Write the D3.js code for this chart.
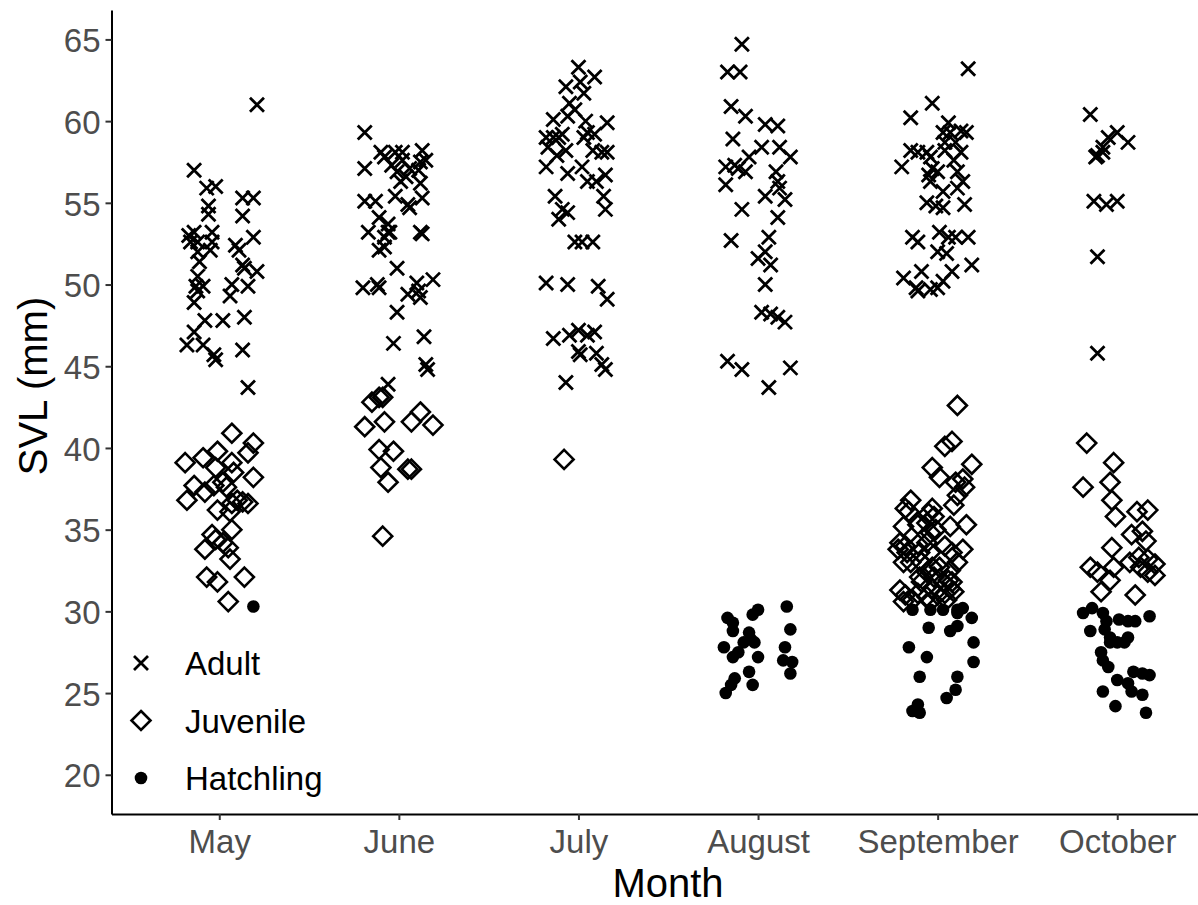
<!DOCTYPE html>
<html><head><meta charset="utf-8">
<script src="https://cdn.jsdelivr.net/npm/d3@7"></script>
<style>body{margin:0;background:#fff}svg{display:block}text{font-family:"Liberation Sans",Arial,sans-serif}</style>
</head><body><svg id="c" width="1198" height="905"></svg>
<script>
const months = ["May","June","July","August","September","October"];
const yTicks = [20,25,30,35,40,45,50,55,60,65];
const stages = ["Adult","Juvenile","Hatchling"];
// [jitter (category units), SVL mm]
const adultMay = [[0.21,61.0],[-0.14,57.0],[-0.07,55.9],[-0.02,56.0],[0.13,55.3],[0.19,55.3],[-0.06,54.8],[-0.06,54.3],[0.13,54.2],[0.19,52.9],[-0.17,53.0],[-0.14,53.2],[-0.04,53.2],[-0.12,52.6],[-0.04,52.6],[-0.16,52.6],[0.09,52.4],[0.11,52.1],[-0.12,52.0],[-0.05,52.1],[-0.11,51.4],[0.13,51.2],[0.14,51.0],[0.21,50.8],[-0.12,50.5],[0.07,50.0],[0.16,49.9],[-0.13,49.9],[-0.09,49.9],[-0.12,49.6],[0.06,49.3],[-0.14,48.9],[-0.08,47.8],[0.02,47.8],[0.14,48.0],[-0.18,46.3],[-0.09,46.3],[-0.03,45.7],[-0.02,45.4],[0.13,46.0],[0.16,43.7],[-0.14,47.1]];
const juvMay = [[0.07,40.9],[0.19,40.3],[0.16,39.7],[-0.19,39.1],[-0.09,39.4],[-0.01,39.8],[-0.02,38.8],[0.07,39.1],[0.08,38.5],[0.19,38.2],[-0.14,37.7],[-0.08,37.3],[-0.03,37.7],[0.02,37.9],[0.04,37.6],[-0.18,36.8],[-0.01,36.2],[0.07,36.6],[0.10,36.8],[0.13,36.7],[0.16,36.6],[0.06,36.1],[0.07,35.0],[-0.04,34.7],[-0.02,34.4],[-0.08,33.8],[0.02,34.2],[0.05,33.9],[0.06,33.2],[-0.07,32.1],[-0.01,31.8],[0.14,32.1],[0.05,30.6]];
const hatchMay = [[0.19,30.3]];
const adultJun = [[-0.19,59.3],[-0.10,58.1],[-0.08,57.8],[-0.02,58.1],[0.02,58.1],[0.13,58.2],[0.15,57.6],[-0.19,57.1],[-0.04,57.3],[-0.01,56.9],[0.02,57.6],[0.06,57.1],[0.11,57.0],[0.12,57.5],[0.04,56.6],[0.01,56.3],[0.12,56.2],[-0.19,55.1],[-0.13,55.1],[-0.02,55.4],[0.05,54.9],[0.06,54.7],[0.13,55.3],[-0.11,54.1],[-0.06,53.7],[-0.17,53.2],[-0.06,53.2],[-0.08,52.9],[-0.05,53.2],[0.12,53.2],[0.13,53.1],[-0.11,52.1],[-0.08,52.3],[-0.01,51.0],[-0.20,49.8],[-0.12,50.0],[-0.11,49.8],[0.10,50.1],[0.19,50.3],[0.05,49.4],[0.11,49.6],[0.12,49.2],[-0.01,48.3],[-0.03,46.4],[0.14,46.8],[0.15,45.1],[0.16,44.8],[-0.06,43.9]];
const juvJun = [[-0.15,42.8],[-0.11,43.1],[-0.09,43.1],[-0.19,41.3],[-0.08,41.6],[0.07,41.6],[0.12,42.2],[0.19,41.4],[-0.11,39.9],[-0.03,39.8],[-0.10,38.8],[0.05,38.7],[0.07,38.7],[-0.06,37.9],[-0.09,34.6]];
const adultJul = [[0.00,63.3],[0.09,62.7],[-0.07,62.1],[0.01,62.4],[0.03,61.7],[-0.05,61.1],[-0.02,60.7],[-0.14,60.1],[-0.06,60.3],[0.04,60.0],[0.16,59.9],[-0.18,59.0],[-0.14,59.0],[-0.11,59.0],[-0.09,59.2],[0.05,59.3],[0.09,59.2],[0.03,59.0],[-0.17,58.4],[-0.07,58.2],[-0.12,57.9],[0.08,58.2],[0.16,58.1],[0.13,58.1],[-0.18,57.2],[-0.06,56.8],[0.02,57.2],[0.05,56.3],[0.10,56.3],[0.15,56.7],[-0.13,55.4],[0.14,55.4],[0.15,54.6],[-0.09,54.6],[-0.06,54.4],[-0.11,54.0],[-0.02,52.6],[0.02,52.6],[0.08,52.6],[-0.18,50.1],[-0.06,50.0],[0.11,49.9],[0.16,49.1],[-0.14,46.7],[-0.05,46.9],[0.00,47.2],[0.05,46.9],[0.09,47.1],[0.00,45.9],[0.01,45.7],[0.10,45.8],[0.13,45.1],[0.15,44.8],[-0.07,44.0]];
const juvJul = [[-0.08,39.3]];
const adultAug = [[-0.09,64.7],[-0.17,63.0],[-0.10,63.0],[-0.15,60.9],[-0.07,60.3],[0.04,59.8],[0.11,59.7],[-0.14,58.9],[0.02,58.4],[0.12,58.4],[0.18,57.8],[-0.05,57.8],[-0.18,57.2],[-0.13,57.3],[-0.11,57.1],[-0.07,56.9],[0.10,56.9],[0.11,56.3],[-0.18,56.1],[0.04,55.4],[0.12,55.9],[0.15,55.2],[-0.09,54.6],[0.11,54.1],[-0.15,52.7],[0.06,52.9],[0.00,51.6],[0.04,52.0],[0.07,51.2],[0.04,50.0],[0.02,48.3],[0.07,48.2],[0.11,48.0],[0.15,47.7],[-0.17,45.3],[-0.09,44.8],[0.18,44.9],[0.06,43.7]];
const hatchAug = [[-0.17,29.6],[-0.14,29.3],[-0.14,28.8],[-0.03,29.8],[0.00,30.1],[-0.19,27.8],[-0.05,28.7],[-0.04,28.3],[-0.08,28.1],[-0.02,28.1],[-0.11,27.5],[-0.14,27.2],[0.00,27.2],[-0.05,26.3],[-0.13,25.9],[-0.15,25.5],[-0.18,25.0],[-0.03,25.5],[0.16,30.3],[0.18,28.9],[0.15,27.8],[0.14,27.0],[0.19,26.9],[0.18,26.2]];
const adultSep = [[0.17,63.2],[-0.03,61.1],[-0.15,60.2],[0.06,59.9],[0.03,59.3],[0.07,59.3],[0.13,59.4],[0.16,59.3],[0.04,58.7],[0.10,58.7],[-0.15,58.2],[-0.11,58.1],[-0.06,58.1],[0.04,58.2],[0.13,58.1],[-0.20,57.2],[-0.04,57.8],[-0.03,57.1],[0.09,57.6],[0.00,56.9],[-0.05,56.7],[-0.04,56.3],[0.11,56.9],[0.14,56.3],[0.11,55.9],[0.03,55.7],[-0.06,55.0],[-0.01,54.8],[0.03,54.7],[0.15,54.9],[-0.14,52.9],[-0.11,52.6],[0.01,53.2],[0.06,52.9],[0.10,52.9],[0.17,52.9],[0.00,52.0],[0.05,51.9],[0.19,51.2],[0.08,50.8],[-0.19,50.4],[-0.09,50.8],[0.03,50.2],[-0.12,49.8],[-0.11,49.6],[-0.04,49.7],[0.00,49.8]];
const juvSep = [[0.11,42.6],[0.04,40.1],[0.08,40.4],[-0.03,38.8],[0.01,38.2],[0.19,39.0],[0.10,37.9],[0.14,38.1],[0.15,37.6],[0.11,37.1],[0.09,36.5],[-0.15,36.8],[-0.18,36.3],[-0.16,36.1],[-0.03,36.3],[-0.05,36.0],[-0.02,35.8],[-0.19,35.2],[-0.11,35.3],[-0.06,35.4],[-0.01,35.0],[-0.04,34.8],[0.07,35.2],[0.16,35.3],[-0.21,34.2],[-0.18,34.0],[-0.22,33.8],[-0.17,33.6],[-0.11,34.1],[-0.06,34.2],[-0.10,33.6],[-0.04,33.6],[0.04,34.0],[0.08,33.6],[0.14,33.8],[-0.19,33.0],[-0.15,33.0],[-0.09,33.0],[-0.03,32.7],[0.01,32.7],[0.07,32.5],[0.11,33.0],[-0.10,32.1],[-0.06,32.4],[-0.02,32.1],[0.06,31.9],[0.08,31.8],[-0.09,31.8],[-0.03,31.4],[0.03,31.8],[0.07,31.4],[-0.21,31.3],[-0.18,31.0],[-0.11,31.1],[-0.06,30.9],[0.00,31.0],[0.04,31.1],[0.09,31.2],[-0.19,30.6],[-0.14,30.7],[-0.04,30.6],[0.05,30.7]];
const hatchSep = [[-0.14,30.1],[-0.04,30.1],[0.03,30.1],[0.11,30.1],[0.14,30.2],[0.11,29.9],[0.19,29.6],[-0.05,29.0],[0.11,29.1],[0.07,28.8],[-0.16,27.8],[-0.06,27.2],[0.20,28.1],[0.20,26.9],[-0.10,26.0],[0.11,26.0],[0.10,25.2],[0.05,24.7],[-0.11,24.3],[-0.14,23.9],[-0.10,23.8]];
const adultOct = [[-0.15,60.4],[0.00,59.3],[0.06,58.7],[-0.05,59.0],[-0.08,58.4],[-0.11,57.9],[-0.12,57.8],[-0.08,58.1],[-0.13,55.1],[-0.06,54.9],[0.00,55.1],[-0.11,51.7],[-0.11,45.8]];
const juvOct = [[-0.17,40.3],[-0.02,39.1],[-0.04,37.9],[-0.19,37.6],[-0.03,36.8],[-0.01,35.8],[0.11,36.1],[0.17,36.2],[0.08,34.7],[0.14,34.9],[0.16,34.3],[-0.03,33.9],[-0.15,32.7],[-0.11,32.4],[-0.02,32.7],[-0.04,31.9],[0.07,33.0],[0.12,33.3],[0.13,32.7],[0.17,33.2],[0.17,32.4],[0.21,32.9],[0.21,32.2],[-0.09,31.2],[0.10,31.0]];
const hatchOct = [[-0.19,29.9],[-0.14,30.2],[-0.08,29.9],[0.18,29.7],[-0.06,29.4],[0.01,29.5],[0.06,29.4],[0.10,29.4],[-0.15,28.8],[-0.07,28.9],[-0.04,28.4],[-0.04,28.1],[0.00,28.1],[0.04,28.1],[0.06,28.4],[-0.09,27.5],[-0.08,27.0],[-0.05,26.6],[0.09,26.3],[0.14,26.2],[0.18,26.1],[0.00,25.8],[0.06,25.6],[-0.08,25.1],[0.08,25.1],[0.14,24.9],[-0.01,24.2],[0.16,23.8]];

const groups = [
  ["Adult","May",adultMay],["Adult","June",adultJun],["Adult","July",adultJul],["Adult","August",adultAug],["Adult","September",adultSep],["Adult","October",adultOct],
  ["Juvenile","May",juvMay],["Juvenile","June",juvJun],["Juvenile","July",juvJul],["Juvenile","September",juvSep],["Juvenile","October",juvOct],
  ["Hatchling","May",hatchMay],["Hatchling","August",hatchAug],["Hatchling","September",hatchSep],["Hatchling","October",hatchOct]
];
const data = [];
groups.forEach(([stage, month, arr]) => arr.forEach(([j, v]) => data.push({stage, month, pos: months.indexOf(month) + j, svl: v})));

const W = 1198, H = 905;
const svg = d3.select("#c");
const x = d3.scaleLinear().domain([-0.6, months.length - 0.4]).range([111.5, 1225]);
const y = d3.scaleLinear().domain([17.6, 66.8]).range([814, 10]);
const FONT = '"Liberation Sans", Arial, sans-serif';

// symbols
const CROSS = 7, DIAM = 9.5, DOT = 6.3;
function drawMark(sel, stage) {
  if (stage === "Adult") {
    sel.append("path").attr("d", `M${-CROSS},${-CROSS}L${CROSS},${CROSS}M${-CROSS},${CROSS}L${CROSS},${-CROSS}`)
      .attr("stroke", "#000").attr("stroke-width", 2.8).attr("fill", "none");
  } else if (stage === "Juvenile") {
    sel.append("path").attr("d", `M0,${-DIAM}L${DIAM},0L0,${DIAM}L${-DIAM},0Z`)
      .attr("stroke", "#000").attr("stroke-width", 2.6).attr("fill", "none").attr("stroke-linejoin", "miter");
  } else {
    sel.append("circle").attr("r", DOT).attr("fill", "#000");
  }
}

// axes
const yAxis = d3.axisLeft(y).tickValues(yTicks).tickSize(6).tickSizeOuter(0).tickPadding(5);
const gy = svg.append("g").attr("transform", "translate(111.5,0)").call(yAxis);
gy.select(".domain").attr("stroke", "#000").attr("stroke-width", 2);
gy.selectAll(".tick line").attr("stroke", "#333").attr("stroke-width", 2);
gy.selectAll(".tick text").attr("fill", "#4D4D4D").attr("font-size", 33).attr("font-family", FONT).attr("dy", "0.37em");

const xAxis = d3.axisBottom(x).tickValues(d3.range(months.length)).tickFormat(i => months[i]).tickSize(6).tickSizeOuter(0).tickPadding(10);
const gx = svg.append("g").attr("transform", "translate(0,814)").call(xAxis);
gx.select(".domain").attr("stroke", "#000").attr("stroke-width", 2);
gx.selectAll(".tick line").attr("stroke", "#333").attr("stroke-width", 2);
gx.selectAll(".tick text").attr("fill", "#4D4D4D").attr("font-size", 33).attr("font-family", FONT);

// titles
svg.append("text").attr("x", 668).attr("y", 897).attr("text-anchor", "middle")
  .attr("font-size", 40).attr("font-family", FONT).attr("fill", "#000").text("Month");
svg.append("text").attr("transform", "translate(47,386) rotate(-90)").attr("text-anchor", "middle")
  .attr("font-size", 40).attr("font-family", FONT).attr("fill", "#000").text("SVL (mm)");

// points
const pts = svg.append("g");
data.forEach(d => {
  const g = pts.append("g").attr("transform", `translate(${x(d.pos)},${y(d.svl)})`);
  drawMark(g, d.stage);
});

// legend
const leg = svg.append("g");
stages.forEach((s, i) => {
  const cy = 663 + i * 57.5;
  const g = leg.append("g").attr("transform", `translate(141,${cy})`);
  drawMark(g, s);
  leg.append("text").attr("x", 185).attr("y", cy + 12).attr("font-size", 33).attr("font-family", FONT)
    .attr("fill", "#000").text(s);
});
</script></body></html>
